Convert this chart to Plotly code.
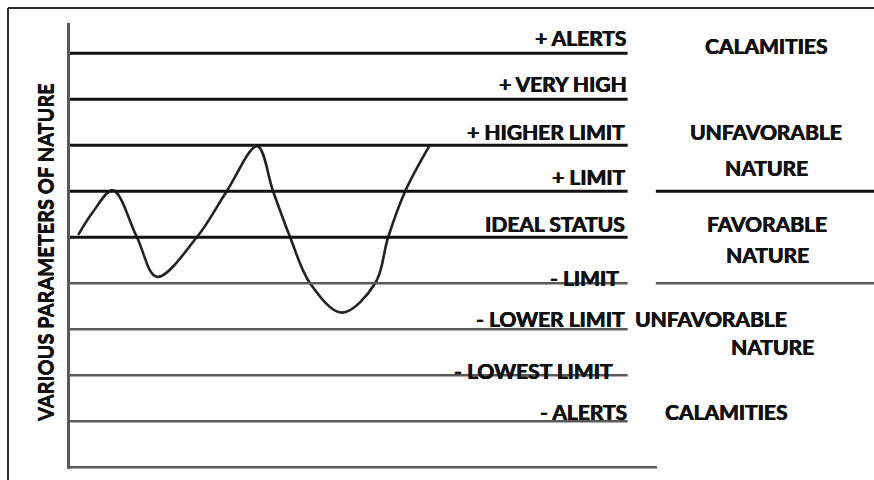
import plotly.graph_objects as go

# ---------------- data ----------------
level_labels = ["- ALERTS", "- LOWEST LIMIT", "- LOWER LIMIT", "- LIMIT", "IDEAL STATUS",
                "+ LIMIT", "+ HIGHER LIMIT", "+ VERY HIGH", "+ ALERTS"]
level_values = [1, 2, 3, 4, 5, 6, 7, 8, 9]

curve_x = [1.4, 3.9, 7.3, 11.4, 14.8, 21.6, 26.7, 31.9, 34.6, 37.5, 40.9, 46.3, 52.0, 54.2, 57.1, 61.2]
curve_y = [5.05, 5.55, 6.02, 5.0, 4.14, 5.0, 6.0, 6.98, 6.0, 5.0, 4.0, 3.36, 4.0, 5.0, 6.0, 6.98]

zone_labels = ["CALAMITIES", "UNFAVORABLE", "NATURE", "FAVORABLE", "NATURE",
               "UNFAVORABLE", "NATURE", "CALAMITIES"]
zone_y = [9.165, 7.294, 6.522, 5.297, 4.618, 3.226, 2.628, 1.203]
zone_x = [118.65, 118.65, 118.65, 118.74, 118.74, 95.9, 119.68, 111.75]

separator_levels = [6, 4]
y_title = "VARIOUS PARAMETERS OF NATURE"

# ---------------- styling / layout ----------------
W, H = 874, 480
ML, MR, MT, MB = 70, 0, 23, 11
SHADOW = "0.5px 0px 0px #111, -0.3px 0px 0px #111"
FONT = dict(family="Lato, 'Open Sans', sans-serif", size=21, color="#111", weight="bold",
            shadow=SHADOW)
TFONT = dict(family="Lato, 'Open Sans', sans-serif", size=20, color="#111", weight="bold",
             shadow="0px 0.5px 0px #111, 0px -0.3px 0px #111")
BLACK = "#111111"
GRAY = "#5a5a5a"

label_right_x = [95.2, 92.9, 94.9, 93.9, 94.9, 94.9, 94.9, 95.2, 95.0]
label_shift = [9.3, 4.9, 10.4, 5.9, 13.5, 15.0, 13.5, 15.5, 16.1]

plot_w = W - ML - MR
plot_h = H - MT - MB


def px_x(p):
    return (p - ML) / plot_w


def px_y(p):
    return (H - MB - p) / plot_h


fig = go.Figure()
fig.add_trace(go.Scatter(x=curve_x, y=curve_y, mode="lines",
                         line=dict(color="#222", width=2.6, shape="spline", smoothing=1.0),
                         hoverinfo="skip", showlegend=False))

shapes = []
for lv in level_values:
    upper = lv >= 5
    shapes.append(dict(type="line", xref="x", yref="y", x0=0, x1=95.0, y0=lv, y1=lv,
                       line=dict(color=BLACK if upper else GRAY, width=3 if upper else 2.5)))
for lv in separator_levels:
    upper = lv >= 5
    shapes.append(dict(type="line", xref="x", yref="y", x0=99.8, x1=140, y0=lv, y1=lv,
                       line=dict(color=BLACK if upper else GRAY, width=3 if upper else 2.5)))
# x axis baseline
shapes.append(dict(type="line", xref="x", yref="y", x0=0, x1=100, y0=0, y1=0,
                   line=dict(color=GRAY, width=2.5)))
# frame (left and top edges)
shapes.append(dict(type="line", xref="paper", yref="paper", x0=px_x(8), x1=px_x(8),
                   y0=px_y(8), y1=px_y(H + 2), line=dict(color="#2a2a2a", width=2)))
shapes.append(dict(type="line", xref="paper", yref="paper", x0=px_x(8), x1=px_x(W + 2),
                   y0=px_y(8), y1=px_y(8), line=dict(color="#2a2a2a", width=2)))

annotations = []
for lab, lv, rx, sh in zip(level_labels, level_values, label_right_x, label_shift):
    annotations.append(dict(text=lab, x=rx, y=lv, xref="x", yref="y", xanchor="right",
                            yanchor="middle", yshift=sh, showarrow=False, font=FONT))
for i, (lab, zx, zy) in enumerate(zip(zone_labels, zone_x, zone_y)):
    annotations.append(dict(text=lab, x=zx, y=zy, xref="x", yref="y",
                            xanchor="left" if i == 5 else "center",
                            yanchor="middle", showarrow=False, font=FONT))
annotations.append(dict(text=y_title, x=px_x(45), y=px_y(253), xref="paper", yref="paper",
                        textangle=-90, xanchor="center", yanchor="middle", showarrow=False,
                        font=TFONT))

fig.update_layout(
    width=W, height=H,
    margin=dict(l=ML, r=MR, t=MT, b=MB),
    paper_bgcolor="white", plot_bgcolor="white",
    xaxis=dict(range=[0, plot_w / 5.87], visible=False, fixedrange=True),
    yaxis=dict(range=[-0.04, 9.66], showline=True, linecolor=GRAY, linewidth=2.5,
               showgrid=False, zeroline=False, showticklabels=False, ticks="", fixedrange=True),
    shapes=shapes, annotations=annotations,
    showlegend=False,
)

fig.write_html("out.html", config={"displayModeBar": False},
               post_script="document.body.style.margin='0';document.body.style.overflow='hidden';")
